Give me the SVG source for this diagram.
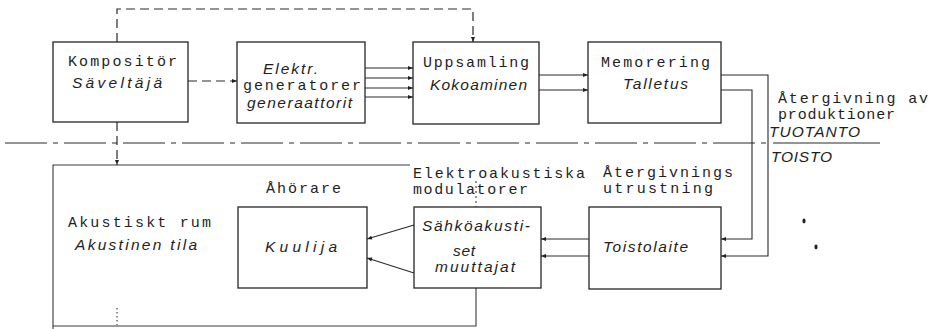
<svg xmlns="http://www.w3.org/2000/svg" width="933" height="329" viewBox="0 0 933 329">
  <style>
    .box { fill: none; stroke: #262626; stroke-width: 1.3; }
    .ln { fill: none; stroke: #2a2a2a; stroke-width: 1.1; }
    .dash { fill: none; stroke: #2a2a2a; stroke-width: 1.2; stroke-dasharray: 9 5; }
    .room { fill: none; stroke: #3a3a3a; stroke-width: 1.1; }
    .mono { font-family: "Liberation Mono", "Courier New", monospace; font-size: 15px; fill: #1e1e1e; }
    .ital { font-family: "Liberation Sans", Arial, sans-serif; font-style: italic; font-size: 15.5px; fill: #1e1e1e; }
  </style>
  <defs>
    <marker id="arr" viewBox="0 0 10 10" refX="10" refY="5" markerWidth="6" markerHeight="5" markerUnits="userSpaceOnUse" orient="auto">
      <path d="M0,1 L10,5 L0,9 z" fill="#222"/>
    </marker>
  </defs>

  <rect width="933" height="329" fill="#ffffff"/>

  <!-- production / reproduction divider -->
  <g id="divider">
    <line class="ln" x1="5" y1="143" x2="766" y2="143" stroke-dasharray="42 6 5 6"/>
    <line class="ln" x1="773" y1="143" x2="880" y2="143"/>
    <text class="ital" x="769" y="137" textLength="91" lengthAdjust="spacing">TUOTANTO</text>
    <text class="ital" x="771" y="162" textLength="61" lengthAdjust="spacing">TOISTO</text>
  </g>

  <!-- acoustic room boundary -->
  <g id="room">
    <polyline class="room" points="410,165 53,165 53,329"/>
    <polyline class="room" points="53,326 476,326 476,288"/>
    <line class="room" x1="476" y1="181" x2="476" y2="207" stroke-dasharray="2 3"/>
    <line class="room" x1="117" y1="308" x2="117" y2="325" stroke-dasharray="1.5 2.5"/>
    <text class="mono" x="68" y="227" textLength="143" lengthAdjust="spacing">Akustiskt rum</text>
    <text class="ital" x="75" y="250" textLength="122" lengthAdjust="spacing">Akustinen tila</text>
  </g>

  <g id="kompositor">
    <rect class="box" x="53" y="42" width="135" height="80"/>
    <text class="mono" x="68" y="66" textLength="109" lengthAdjust="spacing">Kompositör</text>
    <text class="ital" x="72" y="88" textLength="90" lengthAdjust="spacing">Säveltäjä</text>
  </g>

  <g id="generatorer">
    <rect class="box" x="237" y="42" width="128" height="81"/>
    <text class="ital" x="263" y="74" textLength="55" lengthAdjust="spacing">Elektr.</text>
    <text class="mono" x="243" y="90" textLength="118" lengthAdjust="spacing">generatorer</text>
    <text class="ital" x="247" y="108" textLength="105" lengthAdjust="spacing">generaattorit</text>
  </g>

  <g id="uppsamling">
    <rect class="box" x="413" y="42" width="126" height="82"/>
    <text class="mono" x="423" y="67" textLength="106" lengthAdjust="spacing">Uppsamling</text>
    <text class="ital" x="430" y="90" textLength="97" lengthAdjust="spacing">Kokoaminen</text>
  </g>

  <g id="memorering">
    <rect class="box" x="588" y="42" width="133" height="81"/>
    <text class="mono" x="601" y="67" textLength="109" lengthAdjust="spacing">Memorering</text>
    <text class="ital" x="623" y="89" textLength="65" lengthAdjust="spacing">Talletus</text>
  </g>

  <g id="atergivning-label">
    <text class="mono" x="778" y="103" textLength="150" lengthAdjust="spacing">Återgivning av</text>
    <text class="mono" x="778" y="119" textLength="117" lengthAdjust="spacing">produktioner</text>
  </g>

  <g id="kuulija">
    <text class="mono" x="266" y="193" textLength="75" lengthAdjust="spacing">Åhörare</text>
    <rect class="box" x="238" y="207" width="129" height="81"/>
    <text class="ital" x="265" y="252" textLength="72" lengthAdjust="spacing">Kuulija</text>
  </g>

  <g id="muuttajat">
    <text class="mono" x="413" y="178" textLength="172" lengthAdjust="spacing">Elektroakustiska</text>
    <text class="mono" x="413" y="194" textLength="115" lengthAdjust="spacing">modulatorer</text>
    <rect class="box" x="414" y="207" width="127" height="81"/>
    <text class="ital" x="422" y="231" textLength="108" lengthAdjust="spacing">Sähköakusti-</text>
    <text class="ital" x="453" y="256" textLength="22" lengthAdjust="spacing">set</text>
    <text class="ital" x="435" y="272" textLength="80" lengthAdjust="spacing">muuttajat</text>
  </g>

  <g id="toistolaite">
    <text class="mono" x="603" y="177" textLength="130" lengthAdjust="spacing">Återgivnings</text>
    <text class="mono" x="603" y="193" textLength="110" lengthAdjust="spacing">utrustning</text>
    <rect class="box" x="589" y="207" width="132" height="82"/>
    <text class="ital" x="603" y="252" textLength="85" lengthAdjust="spacing">Toistolaite</text>
  </g>

  <g id="connectors">
    <!-- composer control paths (dashed) -->
    <polyline class="dash" points="117,42 117,9 473,9 473,42" marker-end="url(#arr)"/>
    <line class="dash" x1="188" y1="81" x2="237" y2="81" marker-end="url(#arr)"/>
    <line class="dash" x1="117" y1="122" x2="117" y2="165" marker-end="url(#arr)"/>
    <!-- generators to collection -->
    <line class="ln" x1="365" y1="68" x2="413" y2="68" marker-end="url(#arr)"/>
    <line class="ln" x1="365" y1="78" x2="413" y2="78" marker-end="url(#arr)"/>
    <line class="ln" x1="365" y1="88" x2="413" y2="88" marker-end="url(#arr)"/>
    <line class="ln" x1="365" y1="97" x2="413" y2="97" marker-end="url(#arr)"/>
    <!-- collection to memory -->
    <line class="ln" x1="539" y1="75" x2="588" y2="75" marker-end="url(#arr)"/>
    <line class="ln" x1="539" y1="90" x2="588" y2="90" marker-end="url(#arr)"/>
    <!-- memory to playback -->
    <polyline class="ln" points="721,75 768,75 768,256 721,256" marker-end="url(#arr)"/>
    <polyline class="ln" points="721,90 752,90 752,239 721,239" marker-end="url(#arr)"/>
    <!-- playback to transducers -->
    <line class="ln" x1="589" y1="239" x2="541" y2="239" marker-end="url(#arr)"/>
    <line class="ln" x1="589" y1="256" x2="541" y2="256" marker-end="url(#arr)"/>
    <!-- transducers to listener -->
    <line class="ln" x1="414" y1="225" x2="367" y2="239" marker-end="url(#arr)"/>
    <line class="ln" x1="414" y1="273" x2="367" y2="258" marker-end="url(#arr)"/>
  </g>

  <!-- stray ink marks -->
  <g id="marks" fill="#222">
    <ellipse cx="804" cy="221" rx="1.6" ry="2.4"/>
    <ellipse cx="816" cy="247" rx="1.6" ry="2.4"/>
  </g>
</svg>
